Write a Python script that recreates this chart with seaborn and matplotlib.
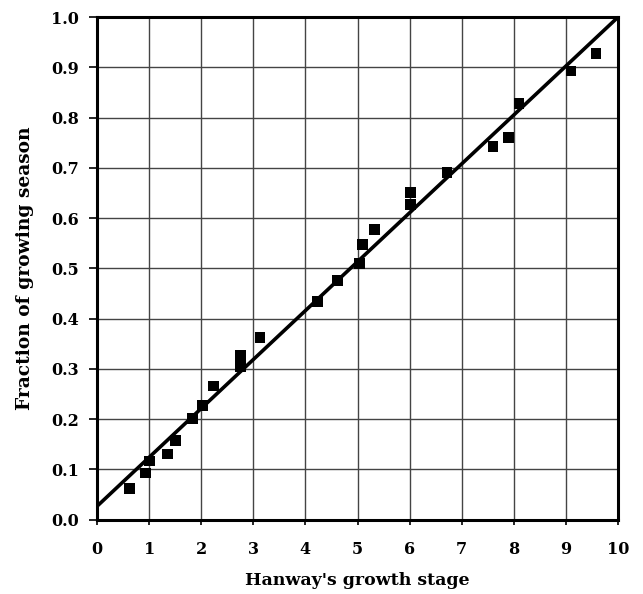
import numpy as np
import pandas as pd
import matplotlib
matplotlib.use("Agg")
import matplotlib.pyplot as plt
import seaborn as sns

# values
stage = [0.62, 0.93, 1.00, 1.35, 1.50, 1.83, 2.02, 2.23, 2.76, 2.76, 3.13,
         4.23, 4.62, 5.04, 5.10, 5.33, 6.02, 6.02, 6.72, 7.60, 7.90, 8.10,
         9.10, 9.58]
fraction = [0.062, 0.093, 0.117, 0.131, 0.158, 0.202, 0.227, 0.266, 0.305,
            0.327, 0.362, 0.434, 0.476, 0.510, 0.548, 0.577, 0.628, 0.651,
            0.691, 0.742, 0.760, 0.828, 0.893, 0.928]

# fitted line end points
fit_x = [0, 10]
fit_y = [0.027, 1.0]

x_ticks = list(range(0, 11))
y_ticks = [round(v * 0.1, 1) for v in range(0, 11)]

sns.set_theme(style="white")
plt.rcParams['font.family'] = ['DejaVu Serif']
plt.rcParams['font.weight'] = 'bold'

df = pd.DataFrame({'stage': stage, 'fraction': fraction})
dfFit = pd.DataFrame({'x': fit_x, 'y': fit_y})

fig = plt.figure(figsize=(6.43, 5.94), dpi=100)
ax = fig.add_axes([0.151, 0.125, 0.810, 0.846])

sns.lineplot(data=dfFit, x='x', y='y', color='black', linewidth=2.6, ax=ax, zorder=3)
sns.scatterplot(data=df, x='stage', y='fraction', marker='s', s=60, color='black',
                edgecolor='none', ax=ax, zorder=4)

ax.set_xlim(0, 10)
ax.set_ylim(0, 1.0)
ax.set_xticks(x_ticks)
ax.set_yticks(y_ticks)
ax.set_yticklabels([f"{v:.1f}" for v in y_ticks])
ax.grid(True, color='#444444', linewidth=1.0)
ax.set_axisbelow(True)

for side in ['left', 'right', 'top', 'bottom']:
    ax.spines[side].set_visible(True)
    ax.spines[side].set_color('black')
    ax.spines[side].set_linewidth(2.2)

ax.tick_params(axis='both', direction='out', width=1.2, color='black',
               labelsize=11.5, labelcolor='black', left=True, bottom=True)
ax.tick_params(axis='x', length=3.6, pad=11.5)
ax.tick_params(axis='y', length=6, pad=7)
for lab in ax.get_xticklabels() + ax.get_yticklabels():
    lab.set_fontweight('bold')

ax.set_xlabel("Hanway's growth stage", fontsize=12.5, fontweight='bold', color='black', labelpad=10)
ax.set_ylabel("Fraction of growing season", fontsize=13.4, fontweight='bold', color='black', labelpad=12)

fig.savefig('out.png', dpi=100)
